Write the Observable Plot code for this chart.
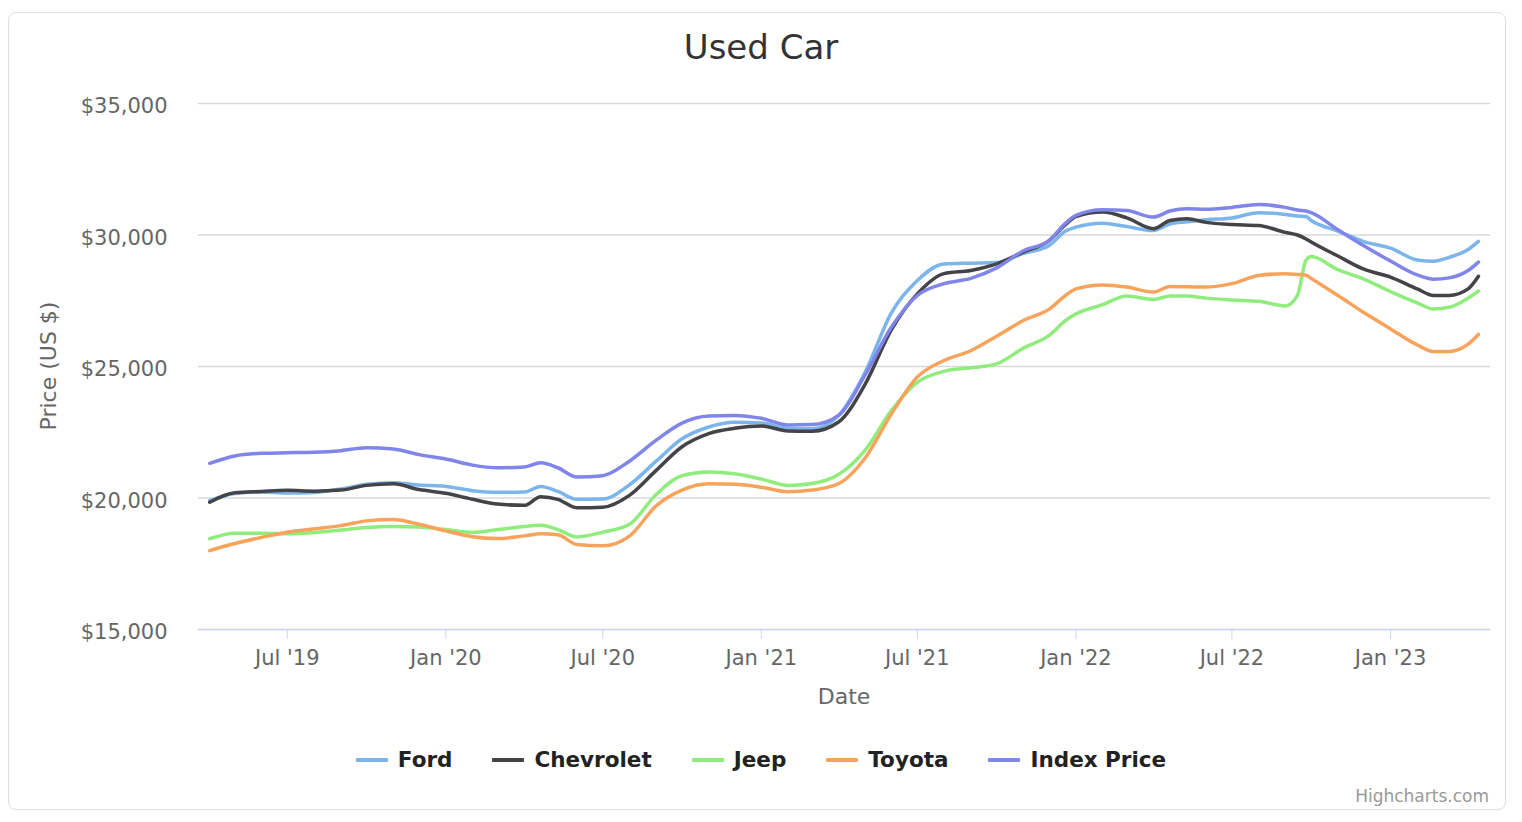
<!DOCTYPE html>
<html>
<head>
<meta charset="utf-8">
<script src="https://cdn.jsdelivr.net/npm/d3@7"></script>
<script src="https://cdn.jsdelivr.net/npm/@observablehq/plot@0.6"></script>
<style>
  html, body { margin: 0; padding: 0; background: #fff; }
  body { width: 1522px; height: 822px; position: relative; overflow: hidden; font-family: "DejaVu Sans", sans-serif; }
  #frame { position: absolute; left: 8px; top: 12px; width: 1498px; height: 798px; border: 1.5px solid #dedede; border-radius: 8px; box-sizing: border-box; }
  #title { position: absolute; left: 0; width: 1522px; top: 27px; text-align: center; font-size: 34px; color: #333; }
  #chart { position: absolute; left: 0; top: 80px; }
  #ytitle { position: absolute; left: 48px; top: 366px; transform: translate(-50%, -50%) rotate(-90deg); font-size: 22px; color: #666; white-space: nowrap; }
  #xtitle { position: absolute; left: 844px; top: 696px; transform: translate(-50%, -50%); font-size: 22px; color: #666; }
  #legend { position: absolute; left: 0; width: 1522px; top: 747px; display: flex; justify-content: center; gap: 40px; font-size: 21.5px; font-weight: bold; color: #222; }
  .item { display: flex; align-items: center; }
  .sym { width: 32px; height: 4px; margin-right: 10px; border-radius: 1px; }
  #credit { position: absolute; right: 33px; top: 786px; font-size: 17px; color: #999; }
</style>
</head>
<body>
<div id="frame"></div>
<div id="title">Used Car</div>
<div id="chart"></div>
<div id="ytitle">Price (US $)</div>
<div id="xtitle">Date</div>
<div id="legend"></div>
<div id="credit">Highcharts.com</div>
<script>
const seriesNames = ["Ford", "Chevrolet", "Jeep", "Toyota", "Index Price"];
const seriesColors = ["#7cb5ec", "#434348", "#90ed7d", "#f7a35c", "#8085e9"];

const dates = [
  "2019-04-02","2019-05-01","2019-06-01","2019-07-01","2019-08-01","2019-09-01","2019-10-01","2019-11-01","2019-12-01",
  "2020-01-01","2020-02-01","2020-03-01","2020-04-01","2020-04-20","2020-05-10","2020-06-01","2020-07-01","2020-08-01",
  "2020-09-01","2020-10-01","2020-11-01","2020-12-01","2021-01-01","2021-02-01","2021-03-01","2021-04-01","2021-05-01",
  "2021-06-01","2021-07-01","2021-08-01","2021-09-01","2021-10-01","2021-11-01","2021-12-01","2021-12-20","2022-01-01",
  "2022-02-01","2022-03-01","2022-04-01","2022-04-20","2022-05-10","2022-06-01","2022-07-01","2022-08-01","2022-09-01",
  "2022-09-15","2022-09-25","2022-10-01","2022-11-01","2022-12-01","2023-01-01","2023-02-01","2023-02-20","2023-03-10",
  "2023-04-01","2023-04-13"
];

const ford = [
  19900,20170,20230,20190,20210,20340,20520,20580,20490,
  20440,20280,20220,20230,20440,20250,19950,19960,20500,
  21400,22250,22700,22880,22850,22650,22630,23150,24750,
  27050,28270,28900,28930,28950,29300,29600,30150,30300,
  30450,30320,30170,30420,30500,30580,30650,30850,30780,
  30720,30700,30550,30150,29750,29500,29050,29000,29150,
  29450,29760
];
const chevrolet = [
  19840,20200,20250,20290,20260,20300,20480,20540,20320,
  20180,19950,19770,19720,20050,19950,19630,19650,20100,
  21050,21950,22450,22650,22740,22550,22540,22900,24300,
  26400,27760,28530,28650,28900,29350,29790,30400,30700,
  30870,30650,30240,30550,30620,30480,30400,30360,30100,
  30000,29850,29730,29200,28700,28400,27950,27700,27700,
  27950,28430
];
const jeep = [
  18450,18660,18660,18640,18690,18780,18880,18920,18900,
  18800,18690,18800,18920,18960,18800,18520,18700,19000,
  20130,20850,20990,20920,20720,20480,20550,20900,21800,
  23330,24400,24820,24950,25100,25700,26180,26750,27000,
  27350,27680,27550,27680,27680,27600,27530,27480,27300,
  27700,29050,29180,28680,28320,27850,27420,27190,27250,
  27600,27870
];
const toyota = [
  18000,18270,18500,18700,18830,18950,19130,19180,19000,
  18750,18530,18460,18560,18640,18600,18230,18180,18550,
  19700,20300,20540,20520,20410,20240,20300,20550,21500,
  23200,24600,25230,25600,26150,26750,27180,27700,27950,
  28100,28020,27830,28040,28030,28020,28150,28460,28530,
  28500,28470,28350,27700,27050,26430,25820,25570,25570,
  25850,26220
];
const indexPrice = [
  21320,21600,21700,21720,21740,21800,21910,21860,21650,
  21480,21250,21150,21180,21340,21150,20800,20850,21400,
  22200,22850,23120,23140,23030,22780,22790,23150,24650,
  26500,27700,28150,28350,28750,29400,29790,30450,30750,
  30960,30930,30680,30910,31000,30980,31050,31160,31050,
  30950,30910,30850,30200,29590,29010,28480,28320,28370,
  28650,28970
];

const yTicks = [15000, 20000, 25000, 30000, 35000];
const xTicks = ["2019-07-01","2020-01-01","2020-07-01","2021-01-01","2021-07-01","2022-01-01","2022-07-01","2023-01-01"];

const valueArrays = [ford, chevrolet, jeep, toyota, indexPrice];
const rows = [];
seriesNames.forEach((name, i) => {
  dates.forEach((d, j) => rows.push({series: name, date: new Date(d), value: valueArrays[i][j]}));
});

const monthFmt = d3.utcFormat("%b");
const yearFmt = d3.utcFormat("%y");

const chart = Plot.plot({
  width: 1522,
  height: 640,
  marginLeft: 198,
  marginRight: 32,
  marginTop: 23,
  marginBottom: 91,
  style: {fontFamily: "DejaVu Sans, sans-serif", fontSize: "21px", background: "transparent"},
  x: {type: "utc", domain: [new Date("2019-03-20"), new Date("2023-04-27")]},
  y: {domain: [15000, 35000]},
  color: {domain: seriesNames, range: seriesColors},
  marks: [
    Plot.gridY(yTicks, {stroke: "#d9d9d9", strokeOpacity: 1, strokeWidth: 1.5}),
    Plot.ruleY([15000], {stroke: "#ccd6eb", strokeWidth: 1.5}),
    Plot.axisY(yTicks, {tickSize: 0, tickPadding: 31, dy: 3, tickFormat: d => "$" + d3.format(",")(d), fill: "#666", label: null}),
    Plot.axisX(xTicks.map(d => new Date(d)), {tickSize: 10, tickPadding: 11, stroke: "#ccd6eb", fill: "#666",
      tickFormat: d => `${monthFmt(d)} '${yearFmt(d)}`, label: null}),
    Plot.line(rows, {x: "date", y: "value", z: "series", stroke: "series", strokeWidth: 3.5, curve: "monotone-x"})
  ]
});
document.getElementById("chart").appendChild(chart);

const legend = document.getElementById("legend");
seriesNames.forEach((name, i) => {
  const item = document.createElement("div");
  item.className = "item";
  const sym = document.createElement("div");
  sym.className = "sym";
  sym.style.background = seriesColors[i];
  const txt = document.createElement("span");
  txt.textContent = name;
  item.appendChild(sym);
  item.appendChild(txt);
  legend.appendChild(item);
});
</script>
</body>
</html>
